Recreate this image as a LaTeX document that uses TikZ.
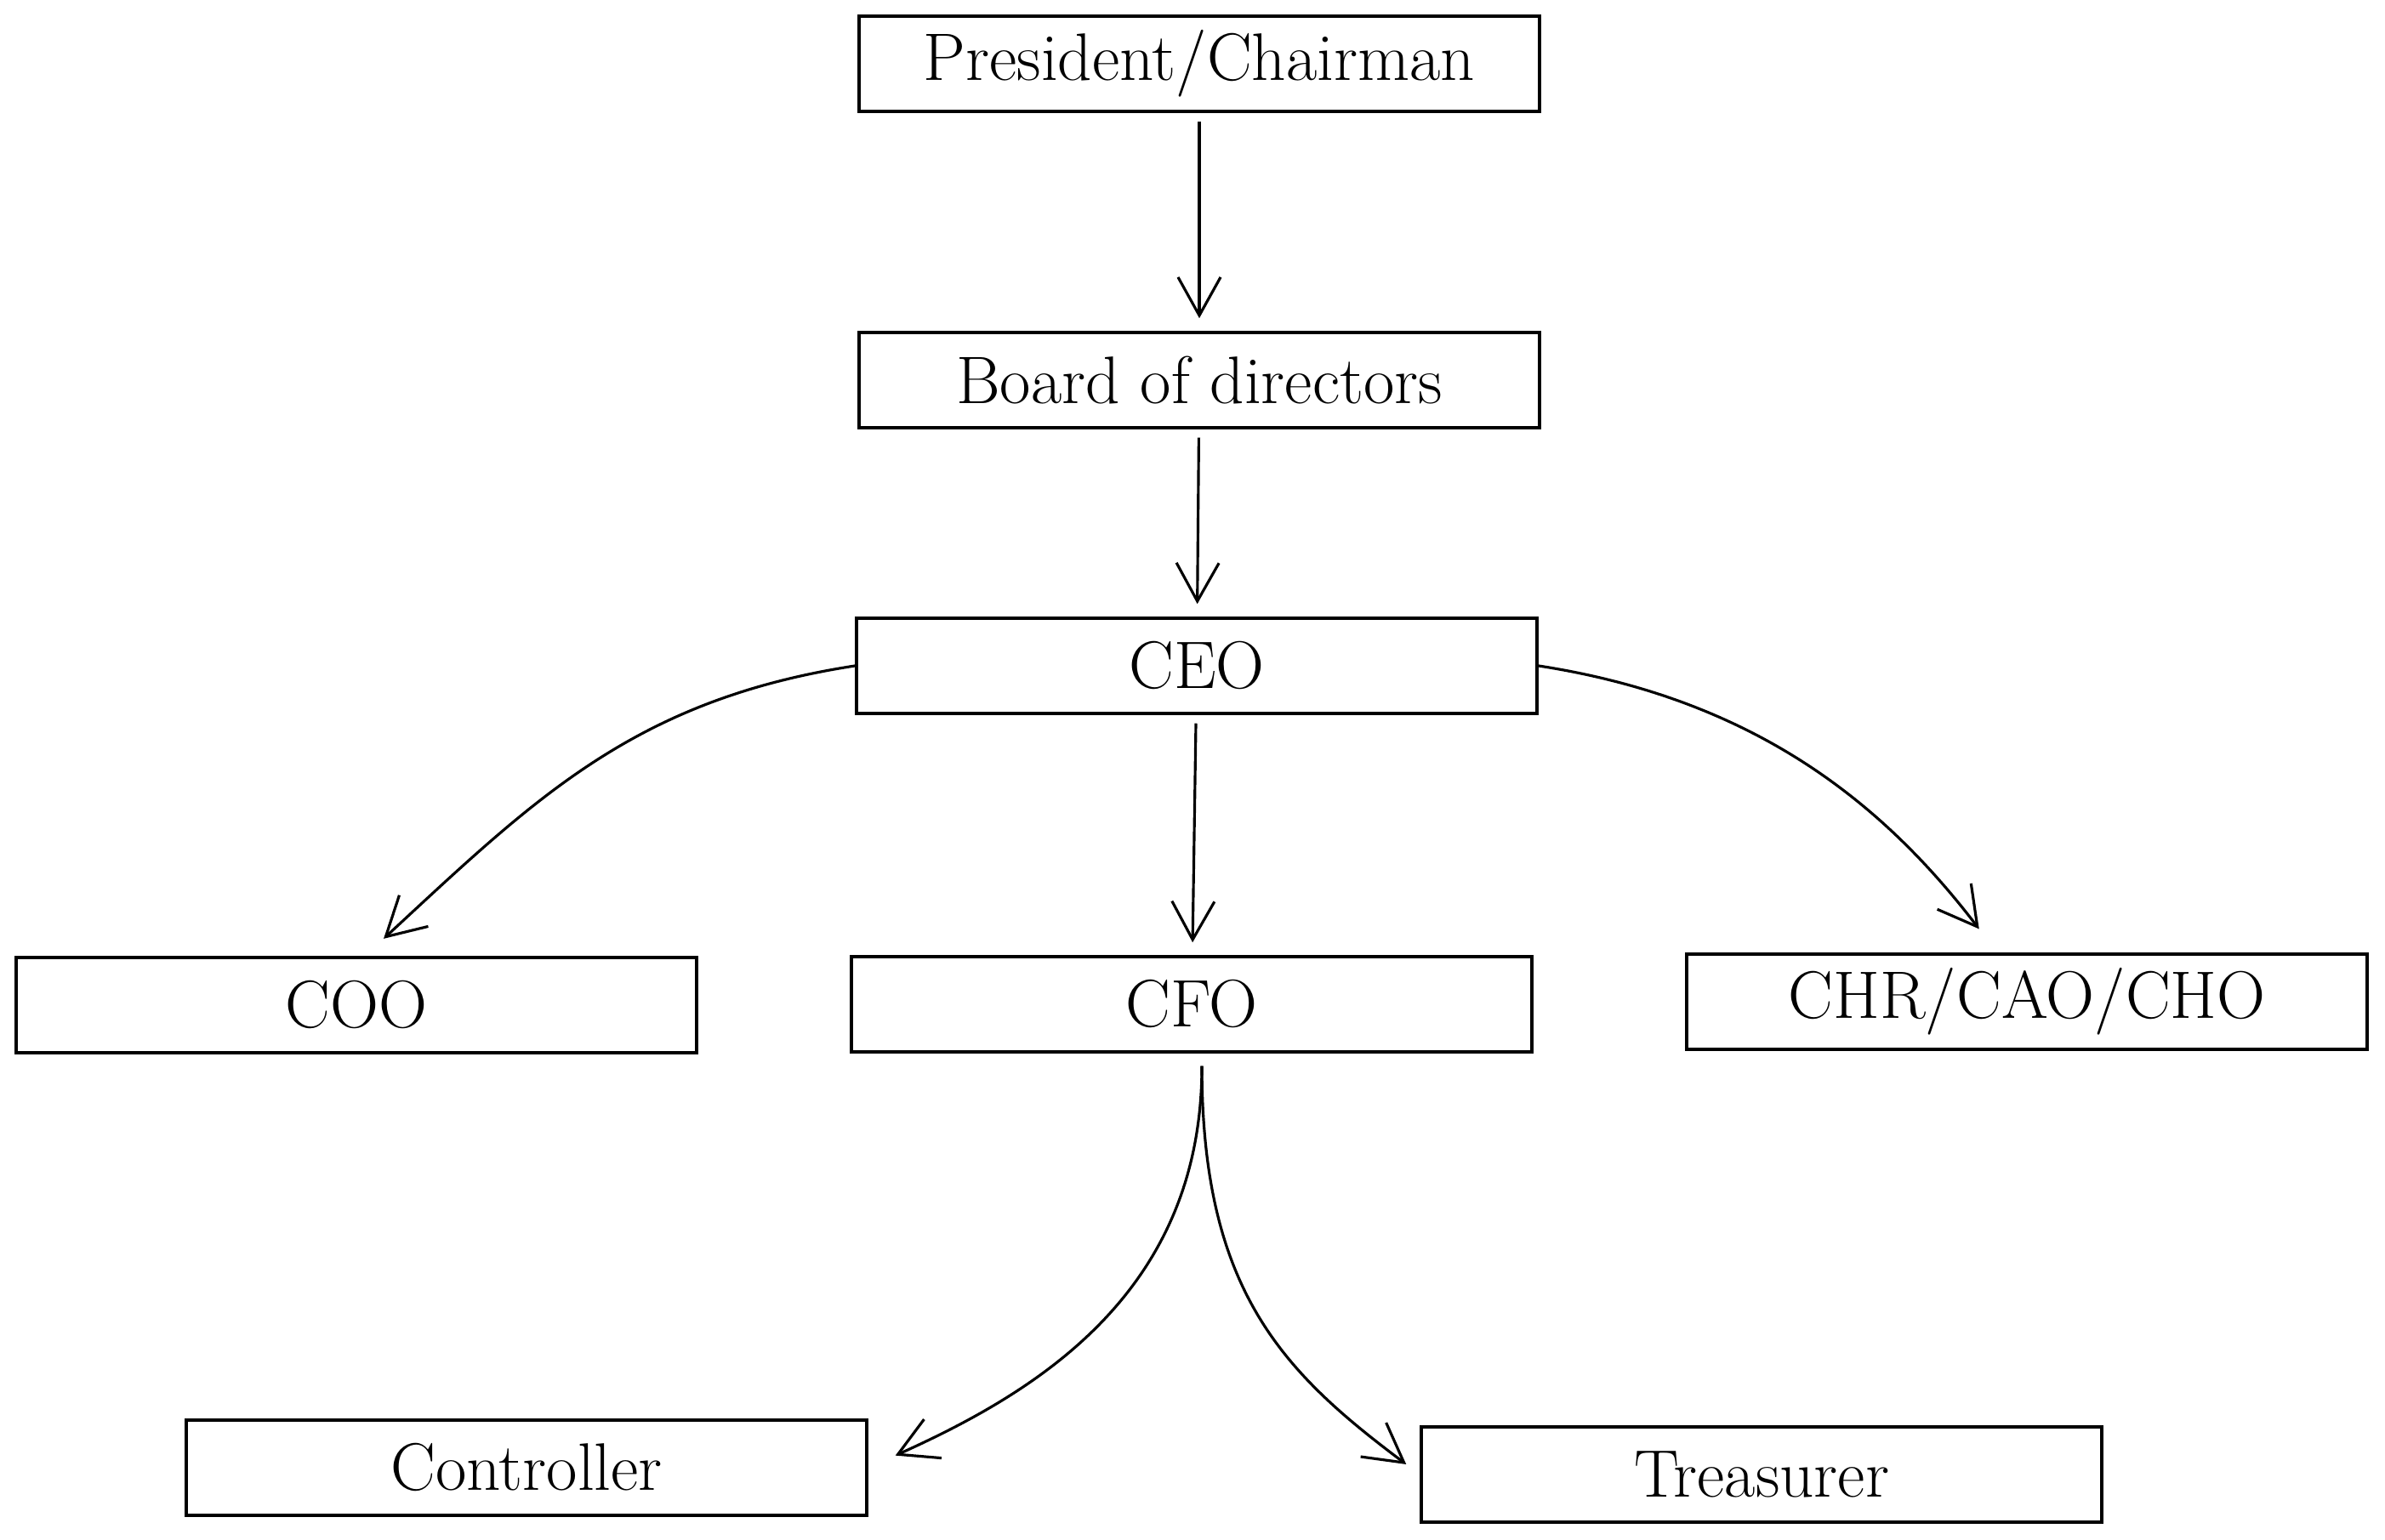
\documentclass[tikz,border=0pt]{standalone}
\usepackage{tikz}
\usetikzlibrary{arrows.meta}

\begin{document}
\begin{tikzpicture}[
		box/.style={draw=black, line width=1pt, minimum width=8cm,
			minimum height=1.12cm, inner sep=0pt, align=center,
			font=\fontsize{22.5}{27}\selectfont},
		arrow/.style={-{Straight Barb[length=4.5mm, width=5mm]}, line width=0.9pt}
	]
		\useasboundingbox (0,0) rectangle (28.04,18.11);
		\node[box] (pres) at (14.10,17.36) {President/Chairman};
		\node[box] (board) at (14.10,13.64) {Board of directors};
		\node[box] (ceo) at (14.07,10.28) {CEO};
		\node[box] (coo) at (4.19,6.29) {COO};
		\node[box] (cfo) at (14.01,6.30) {CFO};
		\node[box] (chr) at (23.83,6.33) {CHR/CAO/CHO};
		\node[box] (ctrl) at (6.19,0.85) {Controller};
		\node[box] (treas) at (20.71,0.77) {Treasurer};
		\foreach \a/\b in {pres/board,board/ceo,ceo/cfo}
			\draw[arrow, shorten <=1mm, shorten >=1.5mm] (\a) -- (\b);
		\draw[arrow, shorten >=3mm] (ceo.west) .. controls +(-2.6,-0.4) and +(2.0,1.85) .. ([xshift=1mm]coo.north);
		\draw[arrow, shorten >=3.5mm] (ceo.east) .. controls +(2.6,-0.4) and +(-1.3,1.7) .. ([xshift=-3.5mm]chr.north);
		\draw[arrow, shorten <=1.5mm, shorten >=3.5mm] ([xshift=1.2mm]cfo.south) .. controls +(0,-2.8) and +(2.0,0.9) .. (ctrl.east);
		\draw[arrow, shorten <=1.5mm, shorten >=2mm] ([xshift=1.2mm]cfo.south) .. controls +(0,-2.8) and +(-1.6,1.2) .. (treas.west);
	\end{tikzpicture}
\end{document}
